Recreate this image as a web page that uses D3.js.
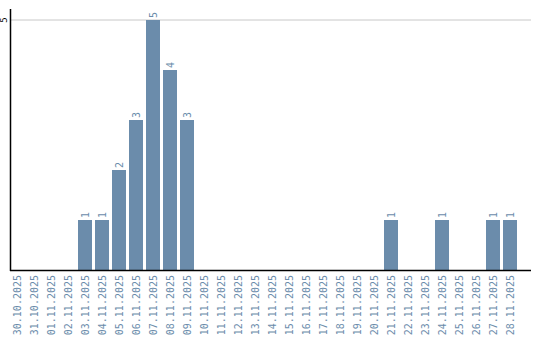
<!DOCTYPE html>
<html>
<head>
<meta charset="utf-8">
<script src="https://cdn.jsdelivr.net/npm/d3@7"></script>
<style>
  body { margin: 0; background: #fff; }
  svg text { font-family: "DejaVu Sans Mono", monospace; }
</style>
</head>
<body>
<div id="chart"></div>
<script>
const dates = ["30.10.2025", "31.10.2025", "01.11.2025", "02.11.2025", "03.11.2025",
    "04.11.2025", "05.11.2025", "06.11.2025", "07.11.2025", "08.11.2025",
    "09.11.2025", "10.11.2025", "11.11.2025", "12.11.2025", "13.11.2025",
    "14.11.2025", "15.11.2025", "16.11.2025", "17.11.2025", "18.11.2025",
    "19.11.2025", "20.11.2025", "21.11.2025", "22.11.2025", "23.11.2025",
    "24.11.2025", "25.11.2025", "26.11.2025", "27.11.2025", "28.11.2025"];
const counts = [0, 0, 0, 0, 1, 1, 2, 3, 5, 4, 3, 0, 0, 0, 0,
    0, 0, 0, 0, 0, 0, 0, 1, 0, 0, 1, 0, 0, 1, 1];
const yTicks = [5];

const width = 540, height = 340;
const barColor = "#6b8cab";

const svg = d3.select("#chart")
    .append("svg")
    .attr("width", width)
    .attr("height", height);

// bands start at the y axis, axis line runs a bit past the last bar
let x = d3.scaleBand()
    .domain(dates)
    .range([10, 517])
    .paddingInner(3 / 17)
    .paddingOuter(0);

let y = d3.scaleLinear()
    .domain([0, 5])
    .range([270, 20]);

// gridline for the tick
svg.selectAll("line.grid")
    .data(yTicks)
    .enter()
    .append("line")
        .attr("class", "grid")
        .attr("x1", 11)
        .attr("x2", 531)
        .attr("y1", d => y(d))
        .attr("y2", d => y(d))
        .attr("stroke", "#c8c8c8")
        .attr("stroke-width", 1);

svg.selectAll("rect")
    .data(counts)
    .enter()
    .append("rect")
        .attr("x", (d, i) => x(dates[i]))
        .attr("y", d => y(d))
        .attr("width", x.bandwidth())
        .attr("height", d => y(0) - y(d))
        .style("fill", barColor);

// value labels above bars, rotated
svg.selectAll("text.val")
    .data(counts.map((c, i) => ({c: c, d: dates[i]})).filter(o => o.c > 0))
    .enter()
    .append("text")
        .attr("class", "val")
        .attr("transform", o => `translate(${x(o.d) + x.bandwidth() / 2 + 4}, ${y(o.c) - 2}) rotate(-90)`)
        .attr("font-size", 10)
        .attr("fill", barColor)
        .text(o => o.c);

// x axis labels
svg.selectAll("text.xlab")
    .data(dates)
    .enter()
    .append("text")
        .attr("class", "xlab")
        .attr("transform", d => `translate(${x(d) + x.bandwidth() / 2 + 4}, 275) rotate(-90)`)
        .attr("text-anchor", "end")
        .attr("font-size", 10)
        .attr("fill", barColor)
        .text(d => d);

// y tick label
svg.selectAll("text.ylab")
    .data(yTicks)
    .enter()
    .append("text")
        .attr("class", "ylab")
        .attr("transform", d => `translate(7, ${y(d)}) rotate(-90)`)
        .attr("text-anchor", "middle")
        .attr("font-size", 9)
        .attr("fill", "#000")
        .text(d => d);

// axis lines
svg.append("line")
    .attr("x1", 10.5).attr("x2", 10.5)
    .attr("y1", 9).attr("y2", 271)
    .attr("stroke", "#000").attr("stroke-width", 1.5);

svg.append("line")
    .attr("x1", 10).attr("x2", 531)
    .attr("y1", 270.5).attr("y2", 270.5)
    .attr("stroke", "#000").attr("stroke-width", 1.5);
</script>
</body>
</html>
